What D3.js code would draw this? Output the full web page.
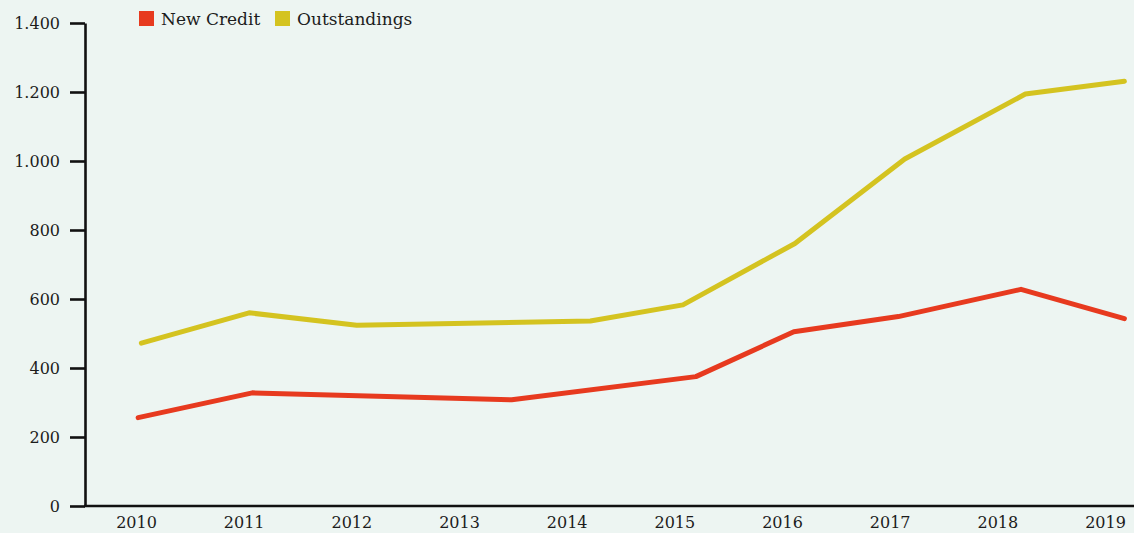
<!DOCTYPE html>
<html>
<head>
<meta charset="utf-8">
<script src="https://cdn.jsdelivr.net/npm/d3@7"></script>
<style>
  html, body { margin: 0; padding: 0; background: #edf5f2; }
  svg { display: block; }
  text { font-family: "DejaVu Serif", serif; fill: #1c1c1c; }
</style>
</head>
<body>
<svg id="chart" width="1134" height="533"></svg>
<script>
// Series: time given as fractional years, values in the chart's units
const seriesNames = ["New Credit", "Outstandings"];
const seriesColors = ["#e73a1f", "#d4c320"];

const newCreditTime = [2010.02, 2011.08, 2013.49, 2015.20, 2016.11, 2017.08, 2018.22, 2019.18];
const newCreditValues = [256, 328, 308, 375, 505, 549, 628, 543];

const outstandingsTime = [2010.05, 2011.05, 2012.05, 2014.22, 2015.08, 2016.12, 2017.14, 2018.26, 2019.18];
const outstandingsValues = [472, 560, 524, 536, 583, 761, 1006, 1194, 1231];

const yearTicks = [2010, 2011, 2012, 2013, 2014, 2015, 2016, 2017, 2018, 2019];
const valueTicks = [0, 200, 400, 600, 800, 1000, 1200, 1400];

const svg = d3.select("#chart");

const x = d3.scaleLinear().domain([2010, 2019]).range([136, 1105]);
const y = d3.scaleLinear().domain([0, 1400]).range([506, 23]);

// thousands separator is a dot
const fmt = d3.formatLocale({ decimal: ",", thousands: ".", grouping: [3], currency: ["", ""] }).format(",d");

// Y axis
const yAxis = d3.axisLeft(y)
  .tickValues(valueTicks)
  .tickFormat(fmt)
  .tickSize(15)
  .tickPadding(10)
  .tickSizeOuter(0);

const gy = svg.append("g").attr("transform", "translate(85,0)").call(yAxis);
gy.select(".domain").attr("stroke", "#111").attr("stroke-width", 2.6);
gy.selectAll(".tick line").attr("stroke", "#111").attr("stroke-width", 2.6);
gy.selectAll(".tick text")
  .style("font-family", "DejaVu Serif, serif")
  .style("font-size", "16px")
  .attr("fill", "#1c1c1c");

// X axis (labels only, baseline line spans the width)
const xAxis = d3.axisBottom(x)
  .tickValues(yearTicks)
  .tickFormat(d3.format("d"))
  .tickSize(0)
  .tickPadding(11);

const gx = svg.append("g").attr("transform", `translate(0,${y(0)})`).call(xAxis);
gx.select(".domain").remove();
gx.selectAll(".tick text")
  .style("font-family", "DejaVu Serif, serif")
  .style("font-size", "16px")
  .attr("fill", "#1c1c1c");

svg.append("line")
  .attr("x1", 84).attr("x2", 1134)
  .attr("y1", y(0)).attr("y2", y(0))
  .attr("stroke", "#111").attr("stroke-width", 2.6);

// Lines
const line = d3.line()
  .x(d => x(d[0]))
  .y(d => y(d[1]));

const series = [
  d3.zip(newCreditTime, newCreditValues),
  d3.zip(outstandingsTime, outstandingsValues)
];

// draw outstandings first, new credit on top
[1, 0].forEach(i => {
  svg.append("path")
    .datum(series[i])
    .attr("d", line)
    .attr("fill", "none")
    .attr("stroke", seriesColors[i])
    .attr("stroke-width", 5)
    .attr("stroke-linecap", "round")
    .attr("stroke-linejoin", "round");
});

// Legend
const legendX = [139, 275];
const legend = svg.append("g");
seriesNames.forEach((name, i) => {
  const g = legend.append("g").attr("transform", `translate(${legendX[i]},11)`);
  g.append("rect")
    .attr("width", 15).attr("height", 15)
    .attr("fill", seriesColors[i]);
  g.append("text")
    .attr("x", 22).attr("y", 14)
    .style("font-size", "17px")
    .text(name);
});
</script>
</body>
</html>
